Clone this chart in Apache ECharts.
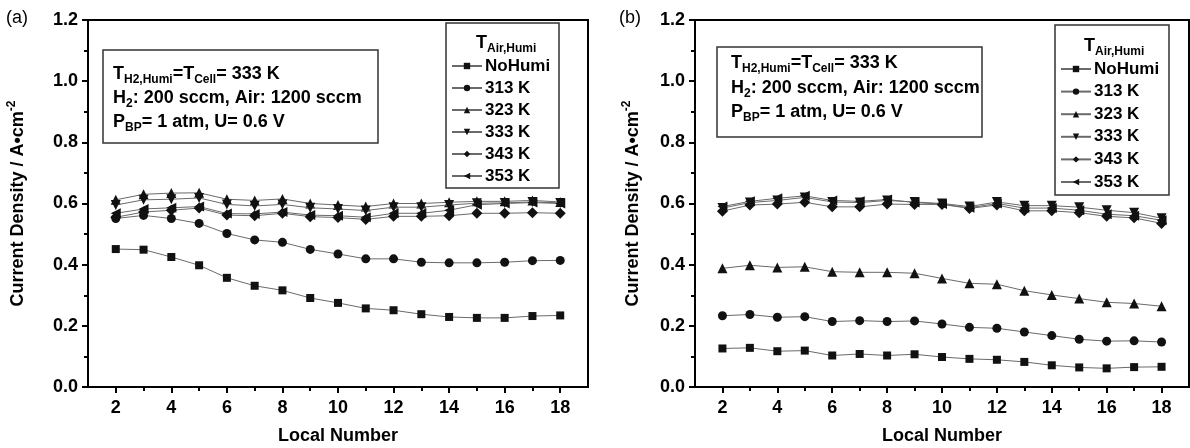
<!DOCTYPE html>
<html><head><meta charset="utf-8">
<script src="https://cdn.jsdelivr.net/npm/echarts@6/dist/echarts.min.js"></script>
<style>html,body{margin:0;padding:0;background:#fff}#c{width:1190px;height:448px}</style>
</head><body><div id="c"></div>
<script>
const localNumbers = [2,3,4,5,6,7,8,9,10,11,12,13,14,15,16,17,18];
const xTickLabels = [2,4,6,8,10,12,14,16,18];
const xMinorTicks = [3,5,7,9,11,13,15,17];
const yTickLabels = [0,0.2,0.4,0.6,0.8,1.0,1.2];
const yMinorTicks = [0.1,0.3,0.5,0.7,0.9,1.1];
const seriesNames = ['NoHumi','313 K','323 K','333 K','343 K','353 K'];

// Panel (a)
const a_NoHumi = [0.451,0.449,0.425,0.398,0.357,0.331,0.316,0.291,0.275,0.257,0.251,0.238,0.229,0.226,0.226,0.232,0.234];
const a_313K  = [0.551,0.561,0.551,0.535,0.502,0.481,0.473,0.450,0.435,0.419,0.419,0.408,0.406,0.406,0.408,0.413,0.414];
const a_323K  = [0.612,0.630,0.634,0.635,0.614,0.610,0.615,0.600,0.595,0.590,0.600,0.600,0.604,0.607,0.607,0.610,0.605];
const a_333K  = [0.595,0.612,0.614,0.618,0.597,0.592,0.597,0.586,0.582,0.577,0.588,0.588,0.595,0.601,0.602,0.605,0.602];
const a_343K  = [0.555,0.572,0.578,0.585,0.562,0.560,0.568,0.557,0.554,0.548,0.558,0.558,0.560,0.568,0.568,0.570,0.568];
const a_353K  = [0.568,0.582,0.586,0.590,0.567,0.566,0.572,0.562,0.560,0.555,0.568,0.568,0.578,0.596,0.600,0.603,0.600];

// Panel (b)
const b_NoHumi = [0.126,0.128,0.117,0.119,0.103,0.108,0.103,0.107,0.098,0.092,0.089,0.082,0.071,0.064,0.061,0.065,0.066];
const b_313K  = [0.233,0.237,0.228,0.230,0.214,0.217,0.214,0.216,0.206,0.195,0.192,0.180,0.168,0.156,0.150,0.151,0.147];
const b_323K  = [0.388,0.398,0.391,0.393,0.377,0.375,0.375,0.372,0.355,0.339,0.336,0.315,0.301,0.289,0.277,0.273,0.264];
const b_333K  = [0.585,0.603,0.610,0.620,0.605,0.603,0.610,0.605,0.600,0.590,0.605,0.593,0.593,0.588,0.578,0.570,0.552];
const b_343K  = [0.575,0.595,0.598,0.604,0.589,0.589,0.598,0.597,0.597,0.584,0.595,0.576,0.576,0.570,0.558,0.553,0.535];
const b_353K  = [0.590,0.607,0.617,0.625,0.610,0.607,0.613,0.603,0.598,0.586,0.600,0.585,0.585,0.578,0.565,0.560,0.545];

const FONT = 'Liberation Sans';
const symbols = [
  {symbol:'rect', size:8, rotate:0},
  {symbol:'circle', size:9, rotate:0},
  {symbol:'triangle', size:10, rotate:0},
  {symbol:'triangle', size:10, rotate:180},
  {symbol:'diamond', size:11, rotate:0},
  {symbol:'triangle', size:10, rotate:90}
];

function mkSeries(vals, i, panel) {
  return {
    type:'line', name: seriesNames[i], xAxisIndex: panel*2, yAxisIndex: panel*2,
    data: localNumbers.map((x,k)=>[x, vals[k]]),
    symbol: symbols[i].symbol, symbolSize: symbols[i].size, symbolRotate: symbols[i].rotate,
    showSymbol: true,
    lineStyle: {color:'#6a6a6a', width:1},
    itemStyle: {color:'#111', borderColor:'#111', borderWidth:0},
    emphasis:{disabled:true}, animation:false, z: 3 + i
  };
}

const grids = [
  {left:88, top:20, width:500, height:367},
  {left:695, top:20, width:494, height:367}
];

function axesFor(panel, nameGapY) {
  const xs = [
    {type:'value', gridIndex:panel, min:1, max:19, position:'bottom',
     name:'Local Number', nameLocation:'middle', nameGap:40,
     nameTextStyle:{fontFamily:FONT, fontWeight:'bold', fontSize:18, color:'#000'},
     axisLine:{show:true, onZero:false, lineStyle:{color:'#000', width:2}},
     axisTick:{show:true, customValues:xTickLabels, length:6, lineStyle:{color:'#000', width:2}},
     axisLabel:{show:true, customValues:xTickLabels, margin:12, fontFamily:FONT, fontWeight:'bold', fontSize:18, color:'#000'},
     splitLine:{show:false}},
    {type:'value', gridIndex:panel, min:1, max:19, position:'bottom',
     axisLine:{show:false, onZero:false},
     axisTick:{show:true, customValues:xMinorTicks, length:4, lineStyle:{color:'#000', width:2}},
     axisLabel:{show:false}, splitLine:{show:false}}
  ];
  const ys = [
    {type:'value', gridIndex:panel, min:0, max:1.2, position:'left',
     name:'{m|Current Density / A\u2022cm}{p|-2}', nameLocation:'middle', nameGap:nameGapY, nameRotate:90,
     nameTextStyle:{fontFamily:FONT, fontWeight:'bold', fontSize:18, color:'#000',
       rich:{m:{fontFamily:FONT, fontWeight:'bold', fontSize:18, color:'#000', lineHeight:24},
             p:{fontFamily:FONT, fontWeight:'bold', fontSize:12, color:'#000', lineHeight:14, verticalAlign:'top'}}},
     axisLine:{show:true, onZero:false, lineStyle:{color:'#000', width:2}},
     axisTick:{show:true, customValues:yTickLabels, length:6, lineStyle:{color:'#000', width:2}},
     axisLabel:{show:true, customValues:yTickLabels, margin:10, formatter:v=>Number(v).toFixed(1),
       fontFamily:FONT, fontWeight:'bold', fontSize:18, color:'#000'},
     splitLine:{show:false}},
    {type:'value', gridIndex:panel, min:0, max:1.2, position:'left',
     axisLine:{show:false, onZero:false},
     axisTick:{show:true, customValues:yMinorTicks, length:4, lineStyle:{color:'#000', width:2}},
     axisLabel:{show:false}, splitLine:{show:false}}
  ];
  return {xs, ys};
}

const ax0 = axesFor(0, 58), ax1 = axesFor(1, 50);

const series = [
  mkSeries(a_NoHumi,0,0), mkSeries(a_313K,1,0), mkSeries(a_323K,2,0),
  mkSeries(a_333K,3,0), mkSeries(a_343K,4,0), mkSeries(a_353K,5,0),
  mkSeries(b_NoHumi,0,1), mkSeries(b_313K,1,1), mkSeries(b_323K,2,1),
  mkSeries(b_333K,3,1), mkSeries(b_343K,4,1), mkSeries(b_353K,5,1)
];

const richSub = {
  n:{fontFamily:FONT, fontWeight:'bold', fontSize:18, fill:'#000', lineHeight:24},
  s:{fontFamily:FONT, fontWeight:'bold', fontSize:12, fill:'#000', lineHeight:14, verticalAlign:'bottom'}
};

function textEl(x, y, txt) {
  return {type:'text', x:x, y:y, z:100,
    style:{text:txt, rich:richSub, fill:'#000', verticalAlign:'middle', align:'left',
           fontFamily:FONT, fontWeight:'bold', fontSize:18}};
}

function annotation(left, right, top, bottom, lines, tx) {
  return [
    {type:'rect', z:90, shape:{x:left, y:top, width:right-left, height:bottom-top},
     style:{fill:'#fff', stroke:'#333', lineWidth:1.5}},
    textEl(tx, lines[0], '{n|T}{s|H2,Humi}{n|=T}{s|Cell}{n|= 333 K}'),
    textEl(tx, lines[1], '{n|H}{s|2}{n|: 200 sccm, Air: 1200 sccm}'),
    textEl(tx, lines[2], '{n|P}{s|BP}{n|= 1 atm, U= 0.6 V}')
  ];
}

function legendBox(left, right, top, bottom, titleX, titleY) {
  return [
    {type:'rect', z:1, shape:{x:left, y:top, width:right-left, height:bottom-top},
     style:{fill:'#fff', stroke:'#333', lineWidth:1.5}},
    textEl(titleX, titleY, '{n|T}{s|Air,Humi}')
  ];
}

function legendFor(panel, left, top, gap) {
  return {
    show:true, orient:'vertical', left:left, top:top, itemGap:gap, padding:0,
    itemWidth:30, itemHeight:8, data: seriesNames, selectedMode:false,
    textStyle:{fontFamily:FONT, fontWeight:'bold', fontSize:17, color:'#000', lineHeight:18, padding:[0,0,0,-2]},
    z: 50
  };
}

const option = {
  animation:false,
  backgroundColor:'#fff',
  grid: grids.map(g=>Object.assign({show:true, borderColor:'#000', borderWidth:2, backgroundColor:'transparent',
                                    containLabel:false, outerBoundsMode:'none'}, g)),
  xAxis: [...ax0.xs, ...ax1.xs],
  yAxis: [...ax0.ys, ...ax1.ys],
  legend: [legendFor(0, 451, 57, 4), legendFor(1, 1060, 60, 4.6)],
  series: series,
  graphic: [
    {type:'text', x:6, y:18, z:100, style:{text:'(a)', fontFamily:FONT, fontSize:18, fill:'#000', verticalAlign:'middle'}},
    {type:'text', x:619, y:18, z:100, style:{text:'(b)', fontFamily:FONT, fontSize:18, fill:'#000', verticalAlign:'middle'}},
    ...annotation(103, 378, 50, 143, [74, 98, 122], 113),
    ...annotation(717, 982, 47, 137, [63, 88, 112], 731),
    ...legendBox(446, 559, 23, 188, 476, 43),
    ...legendBox(1055, 1169, 25, 195, 1084, 46)
  ]
};

const chart = echarts.init(document.getElementById('c'), null, {renderer:'canvas'});
chart.setOption(option);
</script>
</body></html>
